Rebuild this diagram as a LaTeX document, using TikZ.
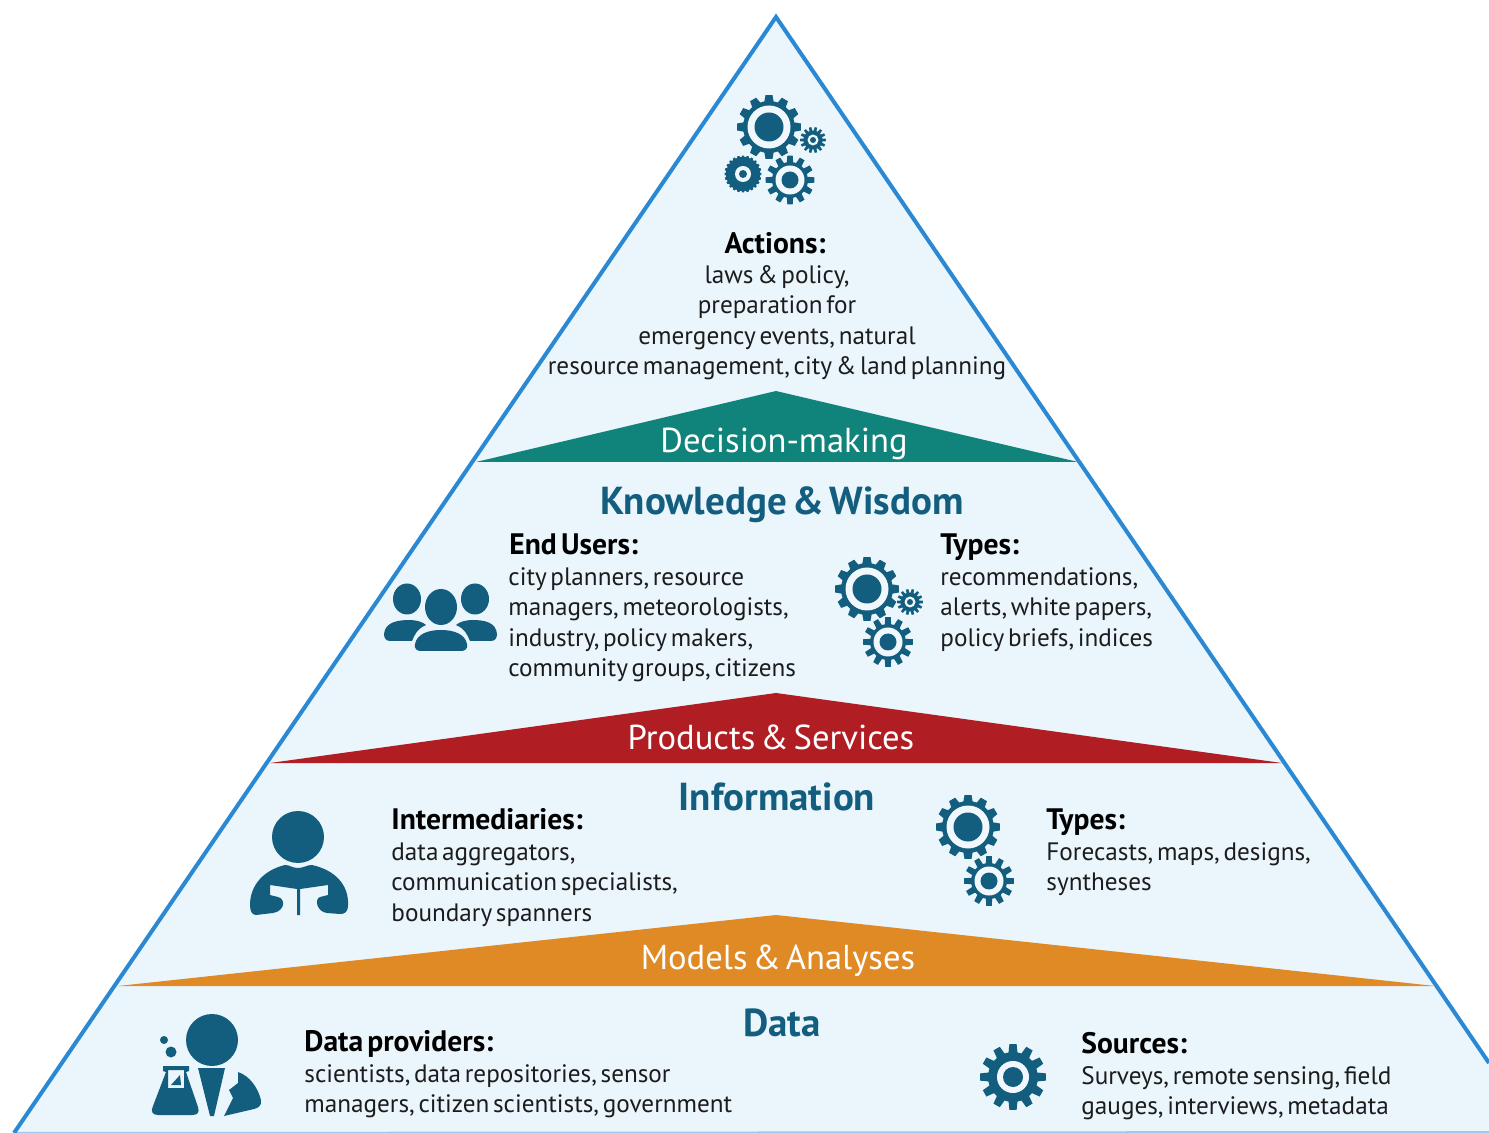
\documentclass[tikz,border=0pt]{standalone}
\usepackage{fontspec}
\setmainfont[WordSpace=0.55]{PT Sans}
\definecolor{paper}{HTML}{EAF5FC}
\definecolor{edge}{HTML}{2B88D2}
\definecolor{icon}{HTML}{135E7E}
\definecolor{teal}{HTML}{10837B}
\definecolor{redband}{HTML}{B01E23}
\definecolor{orangeband}{HTML}{E08A26}
\definecolor{ink}{HTML}{1C1C1C}
\tikzset{
  x=0.5pt,y=-0.5pt,
  bandlabel/.style={text=white,font=\fontsize{17.3}{19}\selectfont,inner sep=0pt,anchor=base},
  tierhead/.style={text=icon,font=\bfseries\fontsize{19.5}{21}\selectfont,inner sep=0pt,anchor=base},
  blockhead/.style={text=black,font=\bfseries\fontsize{14.8}{16}\selectfont,inner sep=0pt,anchor=base west},
  blockbody/.style={text=ink,font=\fontsize{12.6}{15.25}\selectfont,inner sep=0pt,anchor=north west,align=left},
  iconfill/.style={fill=icon,draw=none},
}
\newcommand{\gearicon}[7]{%
  \begin{scope}[shift={(#1,#2)}]
    \pgfmathsetmacro\gearstep{360/#5}
    \pgfmathtruncatemacro\gearlast{#5-1}
    \fill[iconfill,line join=round] (0:#4) \foreach \i in {0,...,\gearlast} {
      -- ({(\i-0.34)*\gearstep}:#4) -- ({(\i-0.21)*\gearstep}:#3)
      -- ({(\i+0.21)*\gearstep}:#3) -- ({(\i+0.34)*\gearstep}:#4)
    } -- cycle;
    \fill[white!30!paper] (0,0) circle[radius=#6];
    \fill[iconfill] (0,0) circle[radius=#7];
  \end{scope}}
\begin{document}
\begin{tikzpicture}
\useasboundingbox (0,0) rectangle (1489,1133);
\clip (0,0) rectangle (1489,1133);
\coordinate (apex) at (776,17);
\coordinate (bl) at (14,1133);
\coordinate (br) at (1489,1063);
\fill[paper] (apex) -- (bl) -- (1489,1133) -- (br) -- cycle;
\draw[edge!40!paper,line width=1pt] (bl) -- (1489,1132);
\draw[edge,line width=2pt,line join=miter] (bl) -- (apex) -- (br);
% bands
\fill[teal] (776,391) -- (1078,462) -- (476,462) -- cycle;
\fill[redband] (776,693) -- (1282,763) -- (270,763) -- cycle;
\fill[orangeband] (776,915) -- (1435,986) -- (118,986) -- cycle;
\node[bandlabel] (decision) at (784,453) {Decision-making};
\node[bandlabel] (products) at (771,749.5) {Products \& Services};
\node[bandlabel] (models) at (778,969) {Models \& Analyses};
% tier heads
\node[tierhead] (knowledge) at (782,515) {Knowledge \& Wisdom};
\node[tierhead] (information) at (777,810) {Information};
\node[tierhead] (datahead) at (782,1036) {Data};
% actions
\node[blockhead,anchor=base] (actions) at (775,254) {Actions:};
\node[blockbody,anchor=north,align=center] (actionsbody) at (777,265) {laws \& policy,\\preparation for\\emergency events, natural\\resource management, city \& land planning};
% end users
\node[blockhead] (endusers) at (509,555) {End Users:};
\node[blockbody] (endusersbody) at (508,567) {city planners, resource\\managers, meteorologists,\\industry, policy makers,\\community groups, citizens};
\node[blockhead] (typesA) at (940,555) {Types:};
\node[blockbody] (typesAbody) at (940,567) {recommendations,\\alerts, white papers,\\policy briefs, indices};
% intermediaries
\node[blockhead] (interm) at (391,829) {Intermediaries:};
\node[blockbody] (intermbody) at (391,842) {data aggregators,\\communication specialists,\\boundary spanners};
\node[blockhead] (typesB) at (1046,829) {Types:};
\node[blockbody] (typesBbody) at (1046,842) {Forecasts, maps, designs,\\syntheses};
% data
\node[blockhead] (providers) at (304,1051) {Data providers:};
\node[blockbody] (providersbody) at (304,1064) {scientists, data repositories, sensor\\managers, citizen scientists, government};
\node[blockhead] (sources) at (1081,1053) {Sources:};
\node[blockbody] (sourcesbody) at (1081,1066) {Surveys, remote sensing, field\\gauges, interviews, metadata};
% gears
\gearicon{769}{127}{32}{26}{12}{21.5}{14.5}
\gearicon{813}{140}{13}{9.5}{14}{5.5}{3}
\gearicon{743}{174}{18.5}{17}{24}{8}{4}
\gearicon{790}{180}{24.5}{18}{12}{14.5}{8.5}
\gearicon{867}{589}{32}{26}{12}{21.5}{14.5}
\gearicon{910}{602}{13}{9.5}{14}{5.5}{3}
\gearicon{888}{642}{25}{18}{12}{14.5}{8.5}
\gearicon{968}{827}{32}{26}{12}{21.5}{14.5}
\gearicon{989}{881}{25}{18}{12}{14.5}{8.5}
\gearicon{1013}{1077}{33}{25}{12}{16}{10}
% people
\fill[iconfill] (407,599) ellipse[x radius=14,y radius=15.5];
\fill[iconfill] (475,599) ellipse[x radius=14,y radius=15.5];
\fill[iconfill] (441,607) ellipse[x radius=16,y radius=18];
\fill[iconfill] (384,634) .. controls (385,622) and (398,620) .. (410,620)
  .. controls (416,620) and (423,622) .. (426,625) .. controls (417,629) and (415,634) .. (412,641)
  -- (390,641) .. controls (386,641) and (384,638) .. (384,634) -- cycle;
\fill[iconfill] (497,634) .. controls (496,622) and (484,620) .. (472,620)
  .. controls (466,620) and (459,622) .. (456,625) .. controls (465,629) and (467,634) .. (470,641)
  -- (491,641) .. controls (495,641) and (497,638) .. (497,634) -- cycle;
\fill[iconfill] (415,644) .. controls (417,634) and (428,630) .. (441,630)
  .. controls (454,630) and (465,634) .. (467,644) .. controls (468,649) and (465,651) .. (461,651)
  -- (421,651) .. controls (417,651) and (414,649) .. (415,644) -- cycle;
% reader
\fill[iconfill] (298,837) circle[radius=26];
\fill[iconfill] (298,868) .. controls (304,868) and (306,865) .. (312,865)
  .. controls (335,870) and (349,885) .. (348,905) .. controls (348,912) and (345,914) .. (340,914)
  -- (327,913) .. controls (317,912) and (314,899) .. (320,897) -- (328,895) -- (328,885) -- (300,889)
  -- (300,915) -- (297,915) -- (297,889) -- (270,885) -- (270,895) -- (278,897)
  .. controls (286,899) and (285,911) .. (273,913) -- (256,915)
  .. controls (252,915) and (250,911) .. (250,905)
  .. controls (250,885) and (264,870) .. (285,865) .. controls (290,865) and (292,868) .. (298,868) -- cycle;
% scientist
\fill[iconfill] (212,1040) circle[radius=26];
\fill[iconfill] (198,1068) -- (225,1068) -- (214,1116) -- (210,1116) -- cycle;
\fill[iconfill] (238,1072) .. controls (250,1076) and (258,1088) .. (261,1100)
  .. controls (262,1106) and (258,1108) .. (254,1109) -- (224,1116) -- (233,1098) -- (229,1090) -- (238,1083) -- cycle;
\fill[iconfill,even odd rule] (163,1066) -- (189,1066) -- (189,1071) -- (186,1072) -- (198,1107)
  .. controls (200,1113) and (197,1115) .. (192,1115) -- (158,1115)
  .. controls (153,1115) and (150,1112) .. (153,1106) -- (166,1072) -- (163,1071) -- cycle
  (168,1070) -- (184,1070) -- (184,1088) -- (168,1088) -- cycle;
\fill[iconfill] (171,1085) -- (181,1085) -- (180,1075) -- cycle;
\fill[iconfill] (164,1040) circle[radius=4];
\fill[iconfill] (171,1052) circle[radius=5.5];
\end{tikzpicture}
\end{document}
